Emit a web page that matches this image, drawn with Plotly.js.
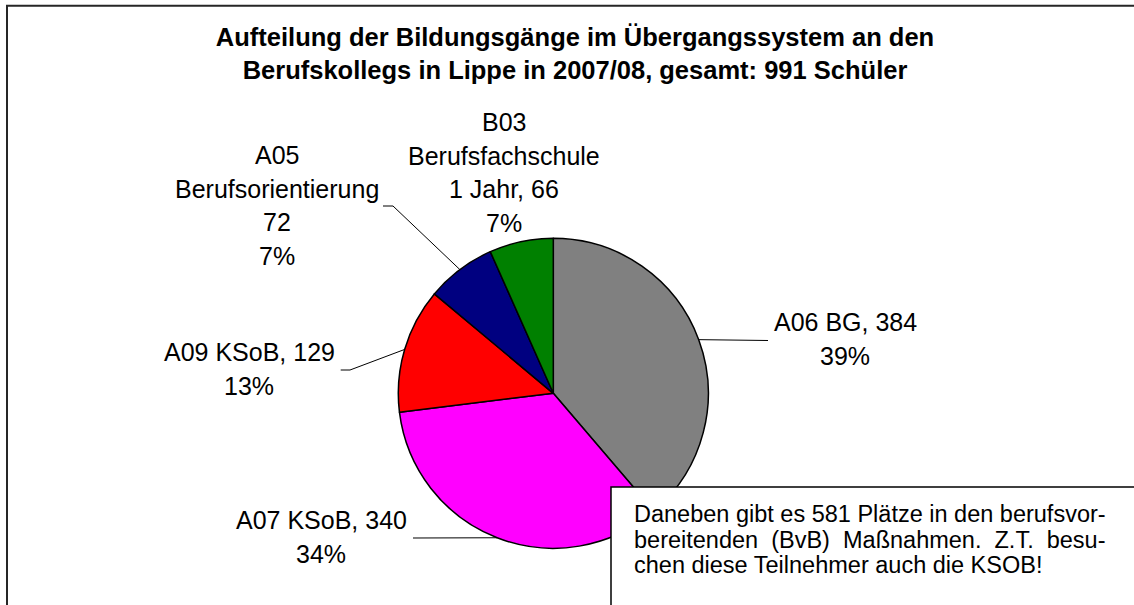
<!DOCTYPE html>
<html><head><meta charset="utf-8">
<script src="https://cdn.plot.ly/plotly-3.0.1.min.js"></script>
<style>html,body{margin:0;padding:0;background:#fff}#chart{width:1134px;height:605px}</style>
</head><body><div id="chart"></div>
<script>
// ---- data ----
const categories = ['A06 BG', 'A07 KSoB', 'A09 KSoB', 'A05 Berufsorientierung', 'B03 Berufsfachschule 1 Jahr'];
const values = [384, 340, 129, 72, 66];
const colors = ['#808080', '#FF00FF', '#FF0000', '#000080', '#008000'];
const labelHeads = ['A06 BG', 'A07 KSoB', 'A09 KSoB', 'A05<br>Berufsorientierung', 'B03<br>Berufsfachschule<br>1 Jahr'];
const labelSeps = [', ', ', ', ', ', '<br>', ', '];
const titleLine1 = 'Aufteilung der Bildungsgänge im Übergangssystem an den';
const titleLine2 = 'Berufskollegs in Lippe in 2007/08, gesamt: ';
const titleUnit = ' Schüler';
const noteLines = ['Daneben gibt es 581 Plätze in den berufsvor-',
                   'bereitenden  (BvB)  Maßnahmen.  Z.T.  besu-',
                   'chen diese Teilnehmer auch die KSOB!'];

// ---- layout constants (pixels) ----
const W = 1134, H = 605;
const CX = 553.3, CY = 393.3, R = 155;
const labelPos = [[845, 322], [321, 520], [249, 352], [277, 155], [504, 122]];
const lineStep = 33.7;
const leaderPts = [[[768, 340.5]], [[413, 538]], [[350, 370], [340.7, 370]], [[393, 206], [383, 206]], null];
const FONT = 'Liberation Sans, Arial, sans-serif';

const px = x => x / W;
const py = y => 1 - y / H;

const total = values.reduce((a, b) => a + b, 0);

const trace = {
  type: 'pie',
  labels: categories,
  values: values,
  sort: false,
  direction: 'clockwise',
  rotation: 0,
  textinfo: 'none',
  hoverinfo: 'label+value+percent',
  marker: {colors: colors, line: {color: '#000000', width: 1.5}},
  domain: {x: [px(CX - R), px(CX + R)], y: [py(CY + R), py(CY - R)]},
  showlegend: false
};

const annotations = [];
const shapes = [];

// outer frame
shapes.push({type: 'rect', xref: 'paper', yref: 'paper', x0: px(7), y0: py(5.7), x1: px(1150), y1: py(625),
  line: {color: '#262626', width: 2}, fillcolor: 'rgba(0,0,0,0)', layer: 'below'});

let cum = 0;
values.forEach((v, i) => {
  const pct = Math.round(v / total * 100);
  const full = labelHeads[i] + labelSeps[i] + v + '<br>' + pct + '%';
  const lines = full.split('<br>');
  lines.forEach((t, k) => {
    annotations.push({
      xref: 'paper', yref: 'paper', x: px(labelPos[i][0]), y: py(labelPos[i][1] + k * lineStep),
      xanchor: 'center', yanchor: 'middle', showarrow: false, text: t,
      font: {family: FONT, size: 25, color: '#000000'}
    });
  });
  const theta = 2 * Math.PI * (cum + v / 2) / total;
  cum += v;
  if (leaderPts[i]) {
    const ex = CX + R * Math.sin(theta), ey = CY - R * Math.cos(theta);
    let path = 'M ' + px(ex) + ',' + py(ey);
    leaderPts[i].forEach(p => { path += ' L ' + px(p[0]) + ',' + py(p[1]); });
    shapes.push({type: 'path', xref: 'paper', yref: 'paper', path: path, line: {color: '#000000', width: 1}});
  }
});

// note box
shapes.push({type: 'rect', xref: 'paper', yref: 'paper', x0: px(611), y0: py(487), x1: px(1150), y1: py(625),
  line: {color: '#000000', width: 1.5}, fillcolor: '#FFFFFF', layer: 'above'});
const noteY = [514, 539.5, 565];
noteLines.forEach((t, k) => {
  annotations.push({
    xref: 'paper', yref: 'paper', x: px(632), y: py(noteY[k]), xanchor: 'left', yanchor: 'middle',
    showarrow: false, align: 'left', text: t.replace(/ {2}/g, '\u00a0\u00a0'),
    font: {family: FONT, size: 23.5, color: '#000000'}
  });
});

const layout = {
  width: W, height: H,
  margin: {l: 0, r: 0, t: 0, b: 0},
  paper_bgcolor: '#FFFFFF', plot_bgcolor: '#FFFFFF',
  showlegend: false,
  title: {
    text: '<b>' + titleLine1 + '<br>' + titleLine2 + total + titleUnit + '</b>',
    x: 575 / W, xanchor: 'center', xref: 'paper',
    y: 1 - 45.5 / H, yanchor: 'top', yref: 'container',
    font: {family: FONT, size: 25.5, color: '#000000'}
  },
  shapes: shapes,
  annotations: annotations
};

Plotly.newPlot('chart', [trace], layout, {displayModeBar: false, staticPlot: true});
</script>
</body></html>
